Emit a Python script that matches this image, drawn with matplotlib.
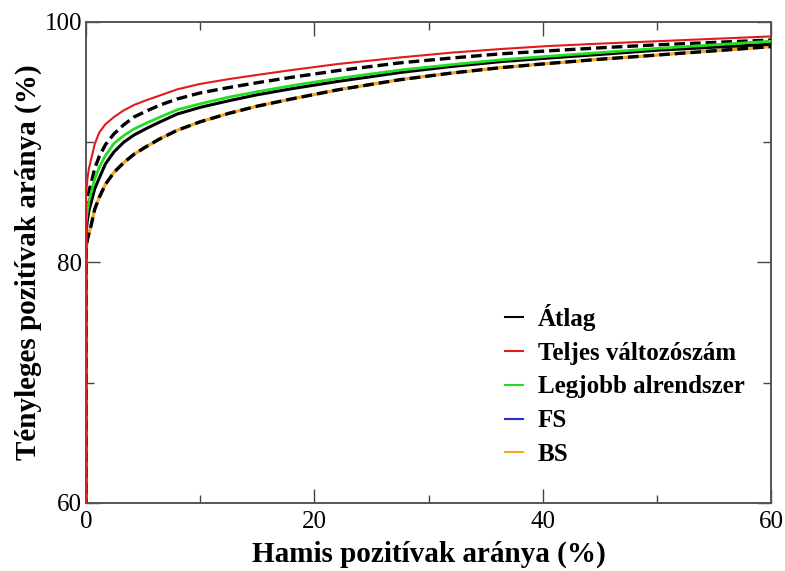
import numpy as np
import matplotlib
matplotlib.use("Agg")
import matplotlib.pyplot as plt
from matplotlib.ticker import MultipleLocator

plt.rcParams["font.family"] = ["Liberation Serif", "DejaVu Serif"]

# false positive rate (%) sample points along the ROC curves
fpr = [0, 0, 0.1, 0.25, 0.45, 0.75, 1.15, 1.7, 2.45, 3.3, 4.2, 5.3, 6.5, 8.0,
       10, 12.5, 15, 18, 22, 27.5, 32, 36.3, 40.5, 45, 50, 55, 60]

# true positive rate (%) for each model
tpr_atlag = [0, 82.4, 83.4, 84.3, 85.0, 86.1, 87.0, 88.2, 89.2, 90.0, 90.6, 91.15, 91.7, 92.35,
             92.9, 93.45, 93.95, 94.45, 95.05, 95.8, 96.3, 96.7, 97.0, 97.3, 97.65, 97.9, 98.15]
tpr_teljes = [0, 85.5, 86.8, 87.8, 88.6, 89.8, 90.8, 91.5, 92.1, 92.65, 93.1, 93.5, 93.9, 94.4,
              94.85, 95.25, 95.6, 96.0, 96.5, 97.05, 97.45, 97.75, 98.0, 98.2, 98.4, 98.6, 98.8]
tpr_legjobb = [0, 83.3, 84.2, 85.1, 85.8, 86.9, 87.9, 88.9, 89.9, 90.55, 91.1, 91.6, 92.1, 92.7,
               93.2, 93.75, 94.2, 94.7, 95.3, 96.0, 96.45, 96.85, 97.15, 97.45, 97.8, 98.1, 98.4]
tpr_fs = [0, 81.0, 81.8, 82.4, 83.1, 84.4, 85.4, 86.5, 87.5, 88.3, 89.0, 89.65, 90.3, 91.0,
          91.7, 92.4, 93.0, 93.6, 94.35, 95.2, 95.75, 96.2, 96.55, 96.9, 97.25, 97.6, 97.95]
tpr_bs = [0, 81.0, 81.8, 82.4, 83.1, 84.4, 85.4, 86.5, 87.5, 88.3, 89.0, 89.65, 90.3, 91.0,
          91.7, 92.4, 93.0, 93.6, 94.35, 95.2, 95.75, 96.2, 96.55, 96.9, 97.25, 97.6, 97.95]
# spread around the average curve (dashed)
tpr_felso = [0, 84.0, 85.0, 85.9, 86.6, 87.8, 88.8, 89.8, 90.7, 91.45, 92.1, 92.6, 93.1, 93.6,
             94.1, 94.55, 94.95, 95.4, 95.95, 96.6, 97.0, 97.35, 97.6, 97.85, 98.1, 98.3, 98.5]
tpr_also = [0, 81.0, 81.8, 82.4, 83.1, 84.4, 85.4, 86.5, 87.5, 88.3, 89.0, 89.65, 90.3, 91.0,
            91.7, 92.4, 93.0, 93.6, 94.35, 95.2, 95.75, 96.2, 96.55, 96.9, 97.25, 97.6, 97.95]

fig = plt.figure(figsize=(7.85, 5.71), dpi=100)
ax = fig.add_axes([0.1096, 0.1191, 0.8726, 0.8424])

dash = (3.2, 1.5)
ax.plot(fpr, tpr_fs, color="#2b2bd9", lw=1.6, label="FS", zorder=2)
ax.plot(fpr, tpr_bs, color="#f5a623", lw=2.2, label="BS", zorder=3)
ax.plot(fpr, tpr_also, color="black", lw=2.4, dashes=dash, zorder=4)
ax.plot(fpr, tpr_atlag, color="black", lw=2.2, label="Átlag", zorder=4)
ax.plot(fpr, tpr_legjobb, color="#22dd22", lw=2.0, label="Legjobb alrendszer", zorder=5)
ax.plot(fpr, tpr_felso, color="black", lw=2.4, dashes=dash, zorder=4)
ax.plot(fpr, tpr_teljes, color="#e01b1b", lw=1.5, label="Teljes változószám", zorder=6)

ax.set_xlim(0, 60)
ax.set_ylim(60, 100)
ax.xaxis.set_major_locator(MultipleLocator(20))
ax.xaxis.set_minor_locator(MultipleLocator(10))
ax.yaxis.set_major_locator(MultipleLocator(20))
ax.yaxis.set_minor_locator(MultipleLocator(10))
ax.tick_params(which="both", direction="in", top=True, right=True,
               color="#444444", width=1.0, labelsize=18)
ax.tick_params(axis="x", pad=6)
ax.tick_params(axis="y", pad=3)
ax.tick_params(which="major", length=10)
ax.tick_params(which="minor", length=6)
for sp in ax.spines.values():
    sp.set_color("#555555")
    sp.set_linewidth(1.4)

ax.set_xlabel("Hamis pozitívak aránya (%)", fontsize=21, fontweight="bold", labelpad=5)
ax.set_ylabel("Tényleges pozitívak aránya (%)", fontsize=21, fontweight="bold", labelpad=2)

handles, labels = ax.get_legend_handles_labels()
order = ["Átlag", "Teljes változószám", "Legjobb alrendszer", "FS", "BS"]
hmap = dict(zip(labels, handles))
leg = ax.legend([hmap[k] for k in order], order, loc="upper left",
                bbox_to_anchor=(505 / 785, 1 - 304 / 571), bbox_transform=fig.transFigure,
                frameon=False, borderpad=0, borderaxespad=0,
                prop={"size": 18, "weight": "bold"},
                handlelength=0.72, handletextpad=0.6, labelspacing=0.43)
for line in leg.get_lines():
    line.set_linewidth(1.5)

fig.savefig("out.png", dpi=100)
